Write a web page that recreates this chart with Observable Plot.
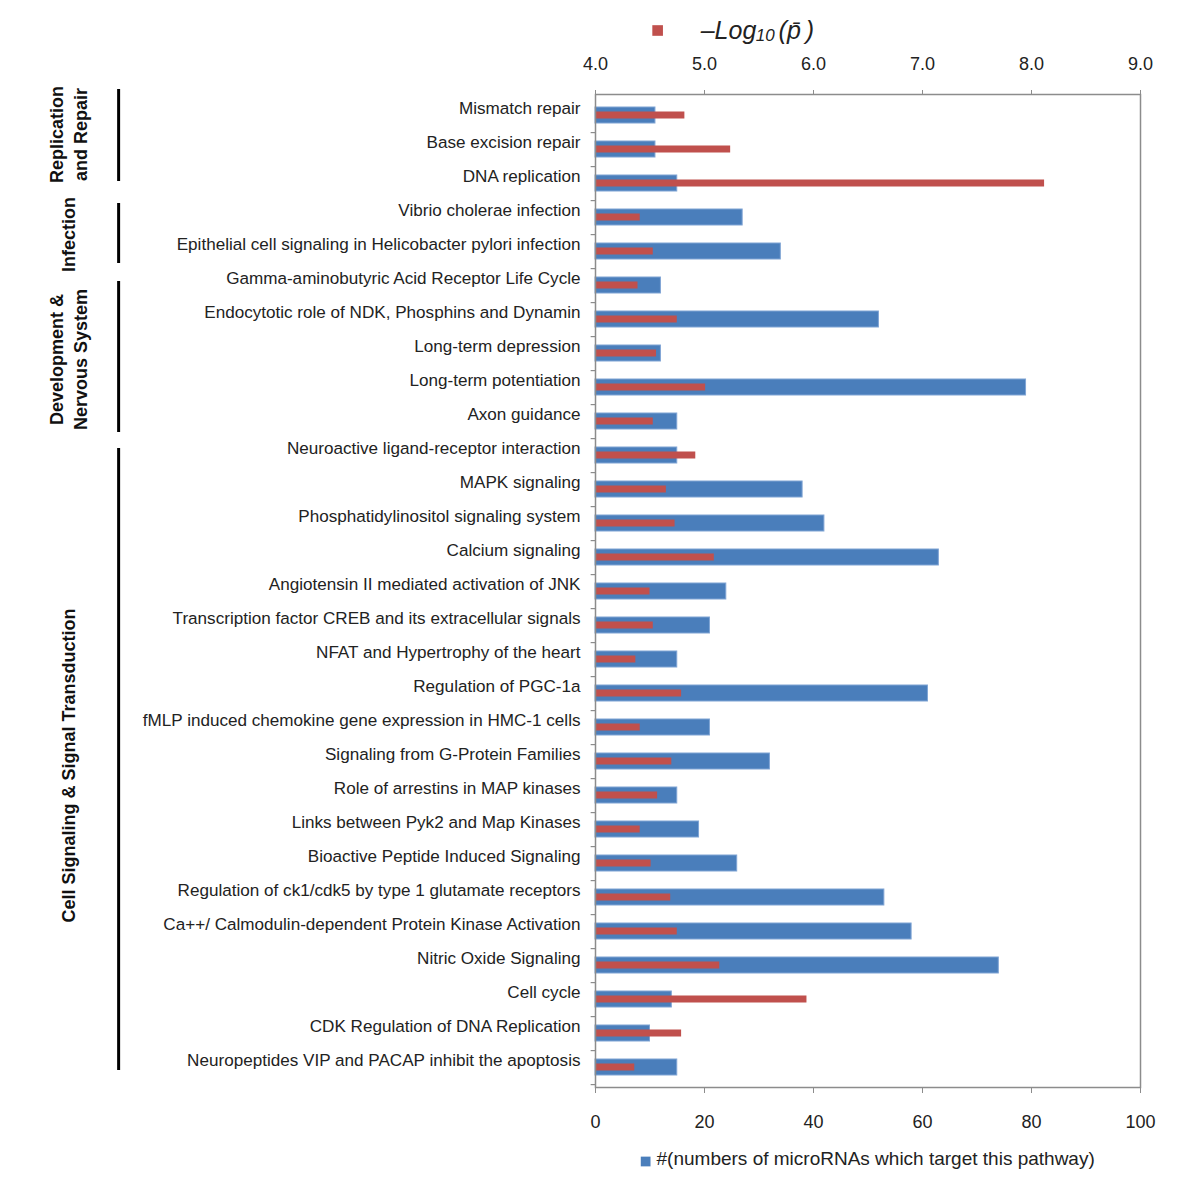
<!DOCTYPE html>
<html><head><meta charset="utf-8">
<script src="https://cdn.jsdelivr.net/npm/d3@7"></script>
<script src="https://cdn.jsdelivr.net/npm/@observablehq/plot@0.6"></script>
<style>body{margin:0;background:#fff;}</style>
</head><body><div id="chart"></div>
<script>
const pathways = [
  "Mismatch repair","Base excision repair","DNA replication",
  "Vibrio cholerae infection","Epithelial cell signaling in Helicobacter pylori infection",
  "Gamma-aminobutyric Acid Receptor Life Cycle","Endocytotic role of NDK, Phosphins and Dynamin",
  "Long-term depression","Long-term potentiation","Axon guidance",
  "Neuroactive ligand-receptor interaction","MAPK signaling","Phosphatidylinositol signaling system",
  "Calcium signaling","Angiotensin II mediated activation of JNK",
  "Transcription factor CREB and its extracellular signals","NFAT and Hypertrophy of the heart",
  "Regulation of PGC-1a","fMLP induced chemokine gene expression in HMC-1 cells",
  "Signaling from G-Protein Families","Role of arrestins in MAP kinases",
  "Links between Pyk2 and Map Kinases","Bioactive Peptide Induced Signaling",
  "Regulation of ck1/cdk5 by type 1 glutamate receptors",
  "Ca++/ Calmodulin-dependent Protein Kinase Activation","Nitric Oxide Signaling",
  "Cell cycle","CDK Regulation of DNA Replication","Neuropeptides VIP and PACAP inhibit the apoptosis"
];
const mirnaCounts = [11,11,15,27,34,12,52,12,79,15,15,38,42,63,24,21,15,61,21,32,15,19,26,53,58,74,14,10,15];
const negLogP = [4.82,5.24,8.12,4.41,4.53,4.39,4.75,4.56,5.01,4.53,4.92,4.65,4.73,5.09,4.50,4.53,4.37,4.79,4.41,4.70,4.57,4.41,4.51,4.69,4.75,5.14,5.94,4.79,4.36];

const countTicks = [0,20,40,60,80,100];
const pTicks = [4.0,5.0,6.0,7.0,8.0,9.0];
const pMin = 4, pMax = 9;

const groupNames = ["Replication\nand Repair","Infection","Development &\nNervous System","Cell Signaling & Signal Transduction"];
const groupFirst = ["Mismatch repair","Vibrio cholerae infection","Gamma-aminobutyric Acid Receptor Life Cycle","Neuroactive ligand-receptor interaction"];
const groupLast = ["DNA replication","Epithelial cell signaling in Helicobacter pylori infection","Axon guidance","Neuropeptides VIP and PACAP inhibit the apoptosis"];
const groupLabelAt = ["Base excision repair","Vibrio cholerae infection","Long-term depression","Signaling from G-Protein Families"];

const legendCountLabel = "#(numbers of microRNAs which target this pathway)";
const legendPParts = ["\u2013Log", "10", "(p\u0304\u2009)"];

// styling (not data)
const groupLabelDy = [-15, 17, 6, 4];
const groupInsetTop = [-9, 3, 13, 10];
const groupInsetBottom = [19, 5, 6, 14];

const table = pathways.map((p, i) => ({pathway: p, count: mirnaCounts[i], p: negLogP[i]}));
// map -log10(p) onto the shared x scale (4..9 -> 0..100)
const toX = v => (v - pMin) / (pMax - pMin) * 100;

const groupMarks = groupNames.flatMap((g, i) => [
  Plot.ruleX([g], {x: -87.5, y1: () => groupFirst[i], y2: () => groupLast[i],
    insetTop: groupInsetTop[i], insetBottom: groupInsetBottom[i], stroke: "#000", strokeWidth: 3}),
  Plot.text([g], {x: -96.9, y: () => groupLabelAt[i], text: d => d, rotate: -90, dy: groupLabelDy[i],
    fontSize: 18, fontWeight: "bold", lineHeight: 1.33, fill: "#111"})
]);

const chart = Plot.plot({
  width: 1200, height: 1200,
  marginLeft: 595, marginRight: 60, marginTop: 94, marginBottom: 113,
  style: {fontFamily: "'Liberation Sans', Arial, sans-serif", color: "#222", background: "#fff"},
  x: {domain: [0, 100], axis: null},
  y: {domain: pathways, padding: 0, axis: null},
  marks: [
    Plot.barX(table, {y: "pathway", x: "count", fill: "#4a7ebb", stroke: "#7fa4d4", strokeWidth: 1, insetTop: 9, insetBottom: 9}),
    Plot.barX(table, {y: "pathway", x: d => toX(d.p), fill: "#c0504d", insetTop: 13.5, insetBottom: 13.5}),
    Plot.frame({stroke: "#8c8c8c", strokeWidth: 1.5}),
    Plot.ruleY(pathways, {y: d => d, x1: -0.8, x2: 0, dy: 17.1, stroke: "#8c8c8c", strokeWidth: 1.2}),
    Plot.axisY({tickSize: 0, tickPadding: 15, fontSize: 17.1, dy: -7, label: null, fill: "#222"}),
    Plot.axisX({anchor: "bottom", ticks: countTicks, tickSize: 6, tickPadding: 22, fontSize: 18, label: null, stroke: "#8c8c8c"}),
    Plot.axisX({anchor: "top", ticks: pTicks.map(toX), tickFormat: v => (pMin + v / 100 * (pMax - pMin)).toFixed(1), tickSize: 5, tickPadding: 20, fontSize: 18, label: null, stroke: "#8c8c8c"}),
    ...groupMarks,
    Plot.dot(["-log10p"], {x: 11.4, frameAnchor: "top", dy: -64, symbol: "square", r: 6, fill: "#c0504d"}),
    Plot.text([legendPParts[0]], {x: 19.3, frameAnchor: "top", dy: -73, textAnchor: "start", fontSize: 25, fontStyle: "italic", fill: "#222"}),
    Plot.text([legendPParts[1]], {x: 29.4, frameAnchor: "top", dy: -66, textAnchor: "start", fontSize: 17, fontStyle: "italic", fill: "#222"}),
    Plot.text([legendPParts[2]], {x: 33.6, frameAnchor: "top", dy: -73, textAnchor: "start", fontSize: 25, fontStyle: "italic", fill: "#222"}),
    Plot.dot(["count"], {x: 9.2, frameAnchor: "bottom", dy: 74, symbol: "square", r: 5.5, fill: "#4a7ebb"}),
    Plot.text([legendCountLabel], {x: 11.2, frameAnchor: "bottom", dy: 77, textAnchor: "start", fontSize: 19, fill: "#222"})
  ]
});
document.getElementById("chart").appendChild(chart);
</script>
</body></html>
